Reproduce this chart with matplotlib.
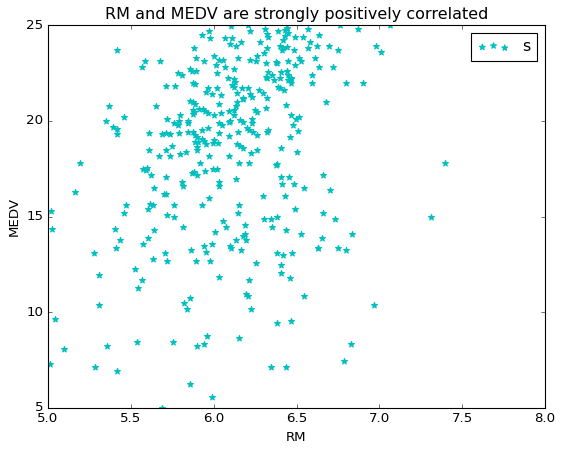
import matplotlib
matplotlib.use("Agg")
import matplotlib.pyplot as plt

# RM / MEDV pairs (only the part inside the 5..8 x 5..25 window)
RM = [
    5.010, 5.020, 5.026, 5.044, 5.097, 5.165, 5.195, 5.280, 5.285, 5.310,
    5.310, 5.352, 5.358, 5.370, 5.394, 5.406, 5.412, 5.414, 5.414, 5.418,
    5.418, 5.435, 5.460, 5.460, 5.473, 5.527, 5.539, 5.545, 5.569, 5.569,
    5.575, 5.575, 5.584, 5.590, 5.600, 5.603, 5.605, 5.610, 5.610, 5.617,
    5.620, 5.635, 5.636, 5.638, 5.641, 5.654, 5.672, 5.678, 5.690, 5.690,
    5.700, 5.708, 5.712, 5.712, 5.714, 5.714, 5.714, 5.718, 5.720, 5.720,
    5.734, 5.738, 5.750, 5.756, 5.762, 5.762, 5.762, 5.768, 5.785, 5.786,
    5.790, 5.790, 5.797, 5.797, 5.810, 5.810, 5.817, 5.817, 5.823, 5.830,
    5.840, 5.843, 5.843, 5.843, 5.857, 5.859, 5.859, 5.860, 5.865, 5.867,
    5.870, 5.875, 5.875, 5.877, 5.877, 5.877, 5.880, 5.880, 5.883, 5.885,
    5.885, 5.889, 5.890, 5.895, 5.895, 5.895, 5.897, 5.897, 5.899, 5.900,
    5.900, 5.907, 5.913, 5.920, 5.930, 5.930, 5.930, 5.930, 5.935, 5.940,
    5.940, 5.943, 5.943, 5.950, 5.950, 5.953, 5.955, 5.955, 5.964, 5.964,
    5.966, 5.970, 5.970, 5.960, 5.973, 5.980, 5.980, 5.990, 5.990, 5.990,
    5.998, 5.998, 6.004, 6.004, 6.004, 6.010, 6.017, 6.018, 6.022, 6.022,
    6.028, 6.030, 6.030, 6.030, 6.030, 6.034, 6.034, 6.034, 6.042, 6.044,
    6.048, 6.057, 6.058, 6.068, 6.068, 6.076, 6.088, 6.090, 6.092, 6.094,
    6.094, 6.098, 6.098, 6.098, 6.104, 6.106, 6.109, 6.109, 6.120, 6.120,
    6.120, 6.122, 6.124, 6.130, 6.133, 6.135, 6.136, 6.136, 6.138, 6.142,
    6.142, 6.145, 6.148, 6.148, 6.154, 6.154, 6.154, 6.159, 6.159, 6.167,
    6.167, 6.169, 6.175, 6.175, 6.179, 6.179, 6.180, 6.190, 6.190, 6.197,
    6.197, 6.199, 6.205, 6.209, 6.209, 6.213, 6.215, 6.215, 6.217, 6.219,
    6.219, 6.227, 6.227, 6.229, 6.229, 6.233, 6.239, 6.249, 6.255, 6.257,
    6.260, 6.260, 6.260, 6.260, 6.271, 6.278, 6.299, 6.300, 6.305, 6.305,
    6.310, 6.316, 6.316, 6.316, 6.320, 6.322, 6.323, 6.323, 6.323, 6.330,
    6.330, 6.330, 6.346, 6.348, 6.350, 6.354, 6.366, 6.376, 6.378, 6.380,
    6.380, 6.384, 6.384, 6.384, 6.388, 6.390, 6.400, 6.400, 6.400, 6.406,
    6.406, 6.406, 6.408, 6.408, 6.410, 6.414, 6.420, 6.420, 6.420, 6.426,
    6.430, 6.430, 6.432, 6.436, 6.438, 6.438, 6.440, 6.440, 6.440, 6.442,
    6.447, 6.447, 6.447, 6.450, 6.456, 6.462, 6.462, 6.465, 6.465, 6.465,
    6.466, 6.468, 6.474, 6.480, 6.486, 6.486, 6.490, 6.492, 6.492, 6.495,
    6.500, 6.510, 6.517, 6.517, 6.525, 6.529, 6.540, 6.547, 6.547, 6.571,
    6.571, 6.581, 6.595, 6.595, 6.613, 6.625, 6.630, 6.631, 6.637, 6.637,
    6.656, 6.661, 6.661, 6.680, 6.698, 6.704, 6.722, 6.734, 6.752, 6.752,
    6.762, 6.788, 6.800, 6.800, 6.830, 6.837, 6.873, 6.903, 6.969, 6.980,
    7.011, 7.064, 7.313, 7.398,
]
MEDV = [
    7.31, 15.27, 14.35, 9.63, 8.07, 16.28, 17.79, 13.09, 7.13, 11.95,
    10.38, 19.99, 8.24, 20.79, 19.67, 14.35, 13.36, 19.55, 19.31, 23.69,
    6.93, 13.77, 20.20, 15.17, 15.60, 12.26, 8.45, 11.27, 22.79, 11.68,
    17.48, 13.56, 23.12, 17.41, 17.55, 15.38, 13.88, 19.36, 18.47, 15.64,
    17.15, 15.60, 12.78, 16.49, 14.29, 20.79, 18.16, 23.12, 19.32, 5.00,
    16.18, 13.09, 21.81, 19.38, 18.47, 17.05, 16.18, 15.06, 20.09, 12.68,
    18.16, 19.32, 18.68, 8.45, 15.60, 14.97, 19.87, 21.81, 19.78, 22.48,
    19.99, 19.38, 20.30, 18.25, 22.39, 16.82, 16.58, 14.45, 10.48, 18.35,
    10.17, 19.99, 19.87, 19.43, 22.70, 10.74, 6.25, 21.05, 13.25, 17.26,
    22.60, 20.96, 19.43, 21.99, 20.56, 20.34, 20.47, 17.34, 23.78, 21.94,
    19.26, 18.91, 20.86, 23.26, 22.60, 12.68, 19.15, 18.64, 18.47, 17.17,
    8.24, 18.91, 20.61, 17.79, 24.48, 19.52, 19.05, 15.60, 20.60, 13.46,
    8.34, 23.12, 18.93, 20.51, 17.37, 13.15, 21.49, 18.77, 21.69, 20.42,
    19.64, 24.69, 15.98, 8.76, 18.18, 24.30, 12.68, 21.40, 13.56, 5.57,
    17.46, 18.82, 23.38, 20.30, 18.99, 14.19, 22.91, 21.73, 22.48, 17.46,
    18.82, 20.86, 19.87, 19.34, 23.17, 16.79, 16.59, 11.84, 21.34, 20.39,
    19.78, 14.75, 23.17, 24.34, 22.79, 14.43, 22.22, 19.95, 20.52, 19.22,
    18.16, 23.99, 19.99, 13.46, 24.96, 13.34, 24.30, 21.87, 22.69, 22.16,
    21.78, 20.30, 20.56, 22.04, 23.89, 20.79, 16.96, 13.77, 21.47, 20.96,
    18.79, 19.43, 23.26, 15.18, 15.60, 17.81, 8.66, 20.04, 18.68, 24.11,
    13.25, 21.73, 19.92, 18.59, 21.20, 13.98, 21.12, 14.54, 14.09, 13.76,
    10.94, 19.61, 21.73, 25.00, 10.85, 19.52, 17.78, 11.68, 23.17, 24.70,
    21.38, 18.30, 10.19, 21.26, 20.09, 19.87, 19.43, 20.56, 23.12, 12.57,
    20.47, 23.38, 19.26, 18.47, 21.61, 24.11, 21.43, 16.07, 23.52, 14.87,
    24.79, 23.03, 22.27, 20.65, 21.17, 23.78, 24.51, 22.22, 19.43, 24.36,
    22.56, 19.52, 14.87, 7.14, 22.39, 14.45, 22.14, 23.08, 17.69, 23.00,
    17.76, 14.96, 13.09, 9.44, 21.78, 24.70, 23.90, 22.22, 21.69, 17.06,
    22.53, 18.56, 12.47, 12.05, 23.69, 16.70, 24.22, 23.78, 12.99, 21.61,
    24.74, 24.44, 16.07, 20.82, 14.29, 7.14, 24.83, 23.87, 22.61, 24.83,
    24.60, 23.12, 22.13, 22.39, 17.06, 19.17, 11.79, 22.22, 22.16, 21.95,
    20.30, 9.54, 13.09, 19.78, 23.69, 16.70, 24.36, 22.91, 15.39, 20.11,
    18.38, 19.46, 23.26, 20.20, 23.12, 14.09, 24.36, 16.49, 10.85, 24.79,
    23.81, 24.10, 22.37, 21.95, 23.26, 23.90, 13.36, 13.36, 24.48, 22.79,
    13.88, 17.17, 15.18, 20.96, 23.90, 16.38, 22.79, 14.87, 23.69, 13.36,
    25.00, 7.45, 21.95, 13.25, 8.34, 14.09, 24.79, 21.95, 10.38, 23.90,
    23.59, 25.00, 14.97, 17.79,
]

plt.style.use("classic")
fig = plt.figure(figsize=(563 / 80, 455 / 80), dpi=80)
ax = fig.add_subplot(111)
fig.subplots_adjust(left=0.0853, right=0.968, top=0.945, bottom=0.1033)

ax.scatter(RM, MEDV, marker="*", c="c", edgecolors="c", s=30, label="s")
ax.set_xlim(5, 8)
ax.set_ylim(5, 25)
ax.set_xlabel("RM")
ax.set_ylabel("MEDV")
ax.set_title("RM and MEDV are strongly positively correlated")
ax.legend(loc="upper right")

fig.savefig("out.png", dpi=80)
